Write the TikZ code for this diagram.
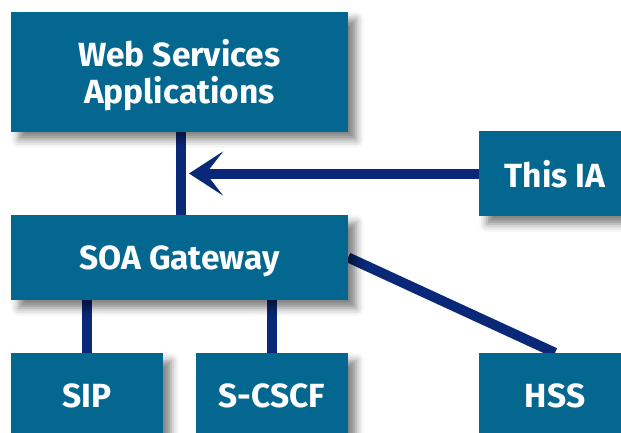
\documentclass[tikz,border=0pt]{standalone}
\usepackage{fontspec}
\setmainfont{Fira Sans}
\usetikzlibrary{arrows.meta,shadows.blur,backgrounds}
\definecolor{boxblue}{RGB}{4,103,143}
\definecolor{linknavy}{RGB}{10,40,120}

\begin{document}
\begin{tikzpicture}[x=1pt, y=-1pt,
		block/.style={fill=boxblue, text=white, inner sep=0pt, align=center,
			minimum width=152pt, minimum height=85pt, text depth=0pt,
			font=\fontsize{33.5}{37.5}\selectfont\bfseries,
			blur shadow={shadow xshift=8pt, shadow yshift=-8pt, shadow blur radius=8pt, shadow opacity=50}},
		link/.style={draw=linknavy, line width=10pt}]
	\useasboundingbox (0,0) rectangle (621,432);
	\clip (0,0) rectangle (621,432);
	\node[block, minimum width=337pt, minimum height=120pt] (web) at (179.5,71.5) {Web Services\\Applications};
	\node[block, minimum width=337pt] (soa) at (179.5,257.5) {SOA Gateway};
	\node[block] (ia) at (555,173.5) {This IA};
	\foreach \name/\x/\txt in {sip/87/SIP, scscf/272/S-CSCF, hss/555/HSS} {
		\node[block] (\name) at (\x,395.5) {\txt};
	}
	\coordinate (hit) at (189,173.5);
	\begin{pgfonlayer}{background}
		\draw[link] ([xshift=1.5pt]web.south) -- ([xshift=1.5pt]soa.north);
		\draw[link, -{Stealth[length=34pt, width=44pt, inset=17pt]}] (ia.west) -- (hit);
		\foreach \name in {sip, scscf} {
			\draw[link] (\name.north) -- (\name.north |- soa.south);
		}
		\draw[link] (soa.east) -- (hss.north);
	\end{pgfonlayer}
\end{tikzpicture}
\end{document}
